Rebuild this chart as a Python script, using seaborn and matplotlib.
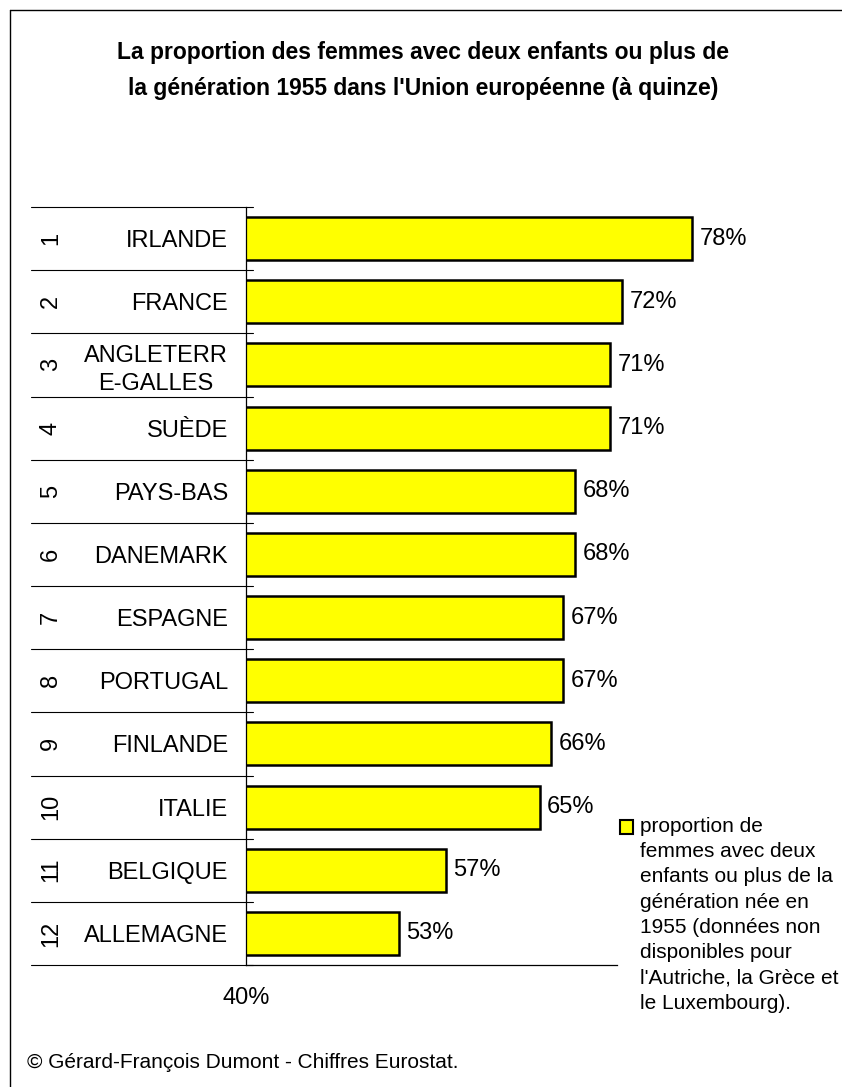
import matplotlib
matplotlib.use("Agg")
import matplotlib.pyplot as plt
from matplotlib.patches import Patch, Rectangle
from matplotlib.lines import Line2D
from matplotlib.legend_handler import HandlerPatch
import seaborn as sns
import numpy as np
import pandas as pd

# ---- data ----
ranks = ["1", "2", "3", "4", "5", "6", "7", "8", "9", "10", "11", "12"]
countries = ["IRLANDE", "FRANCE", "ANGLETERR\nE-GALLES", "SUÈDE", "PAYS-BAS", "DANEMARK",
             "ESPAGNE", "PORTUGAL", "FINLANDE", "ITALIE", "BELGIQUE", "ALLEMAGNE"]
values = [78, 72, 71, 71, 68, 68, 67, 67, 66, 65, 57, 53]
x_ticks = [40]
x_tick_labels = ["40%"]
title = ("La proportion des femmes avec deux enfants ou plus de\n"
         "la génération 1955 dans l'Union européenne (à quinze)")
legend_label = ("proportion de\nfemmes avec deux\nenfants ou plus de la\ngénération née en\n"
                "1955 (données non\ndisponibles pour\nl'Autriche, la Grèce et\nle Luxembourg).")
credit = "© Gérard-François Dumont - Chiffres Eurostat."

df = pd.DataFrame({"pays": countries, "valeur": values})

sns.set_style("white")
plt.rcParams["font.family"] = ["Liberation Sans", "DejaVu Sans"]
plt.rcParams["text.color"] = "black"
plt.rcParams["axes.labelcolor"] = "black"
plt.rcParams["xtick.color"] = "black"
plt.rcParams["ytick.color"] = "black"


class TopPatchHandler(HandlerPatch):
    def __init__(self, shift, **kw):
        super().__init__(**kw)
        self.shift = shift

    def create_artists(self, legend, orig_handle, xdescent, ydescent, width, height, fontsize, trans):
        p = Rectangle(xy=(-xdescent, -ydescent + self.shift), width=width, height=height)
        self.update_prop(p, orig_handle, legend)
        p.set_transform(trans)
        return [p]


W, H = 842, 1087
fig = plt.figure(figsize=(W / 100, H / 100), dpi=100)
ax_left, ax_right, ax_top, ax_bottom = 246, 715.6, 207, 965
ax = fig.add_axes([ax_left / W, 1 - ax_bottom / H, (ax_right - ax_left) / W, (ax_bottom - ax_top) / H])

sns.barplot(data=df, x="valeur", y="pays", orient="h", color="#FFFF00", saturation=1,
            edgecolor="black", linewidth=1.8, width=0.68, ax=ax)
ax.set_xlim(40, 80)
ax.set_ylim(len(countries) - 0.5, -0.5)
ax.set_xlabel("")
ax.set_ylabel("")

ax.bar_label(ax.containers[0], labels=[f"{v}%" for v in values], padding=5.5, fontsize=17)

# axes styling
for s in ["top", "right"]:
    ax.spines[s].set_visible(False)
for s in ["left", "bottom"]:
    ax.spines[s].set_color("black")
    ax.spines[s].set_linewidth(0.9)
ax.spines["bottom"].set_bounds(40, 71.6)

ax.set_xticks(x_ticks)
ax.set_xticklabels(x_tick_labels)
ax.tick_params(axis="x", direction="out", length=5, width=0.9, color="black", pad=11, labelsize=17)
ax.tick_params(axis="y", length=0, pad=13, labelsize=17)
for lab in ax.get_yticklabels():
    lab.set_multialignment("center")
    lab.set_linespacing(1.3)

tr = ax.get_yaxis_transform()
x0 = (31 - ax_left) / (ax_right - ax_left)
x1 = (253 - ax_left) / (ax_right - ax_left)
for b in np.arange(-0.5, len(countries)):
    ax.plot([x0, x1], [b, b], transform=tr, color="black", lw=0.8, clip_on=False)

xr = (51 - ax_left) / (ax_right - ax_left)
for i, r in enumerate(ranks):
    ax.text(xr, i, r, transform=tr, rotation=90, ha="center", va="center", fontsize=17)

# legend
line_px = 25.2
handle = Patch(facecolor="#FFFF00", edgecolor="black", linewidth=1.5, label=legend_label)
leg = fig.legend(handles=[handle], loc="upper left", bbox_to_anchor=(620 / W, 1 - 817 / H),
                 fontsize=15, frameon=False,
                 handlelength=0.62, handleheight=0.62, handletextpad=0.35, borderpad=0, borderaxespad=0,
                 handler_map={Patch: TopPatchHandler(shift=3.5 * line_px * 72 / 100)})
for t in leg.get_texts():
    t.set_linespacing(1.415)

# title and credit
fig.text(423.5 / W, 1 - 70.5 / H, title, ha="center", va="center", fontsize=16.5, fontweight="bold", linespacing=1.7)
fig.text(27 / W, 1 - 1062 / H, credit, ha="left", va="center", fontsize=15)

# frame
fig.add_artist(Line2D([10 / W, 10 / W], [0, 1 - 10 / H], transform=fig.transFigure, color="black", lw=1))
fig.add_artist(Line2D([10 / W, 1], [1 - 10 / H, 1 - 10 / H], transform=fig.transFigure, color="black", lw=1))

fig.savefig("out.png", dpi=100, facecolor="white")
